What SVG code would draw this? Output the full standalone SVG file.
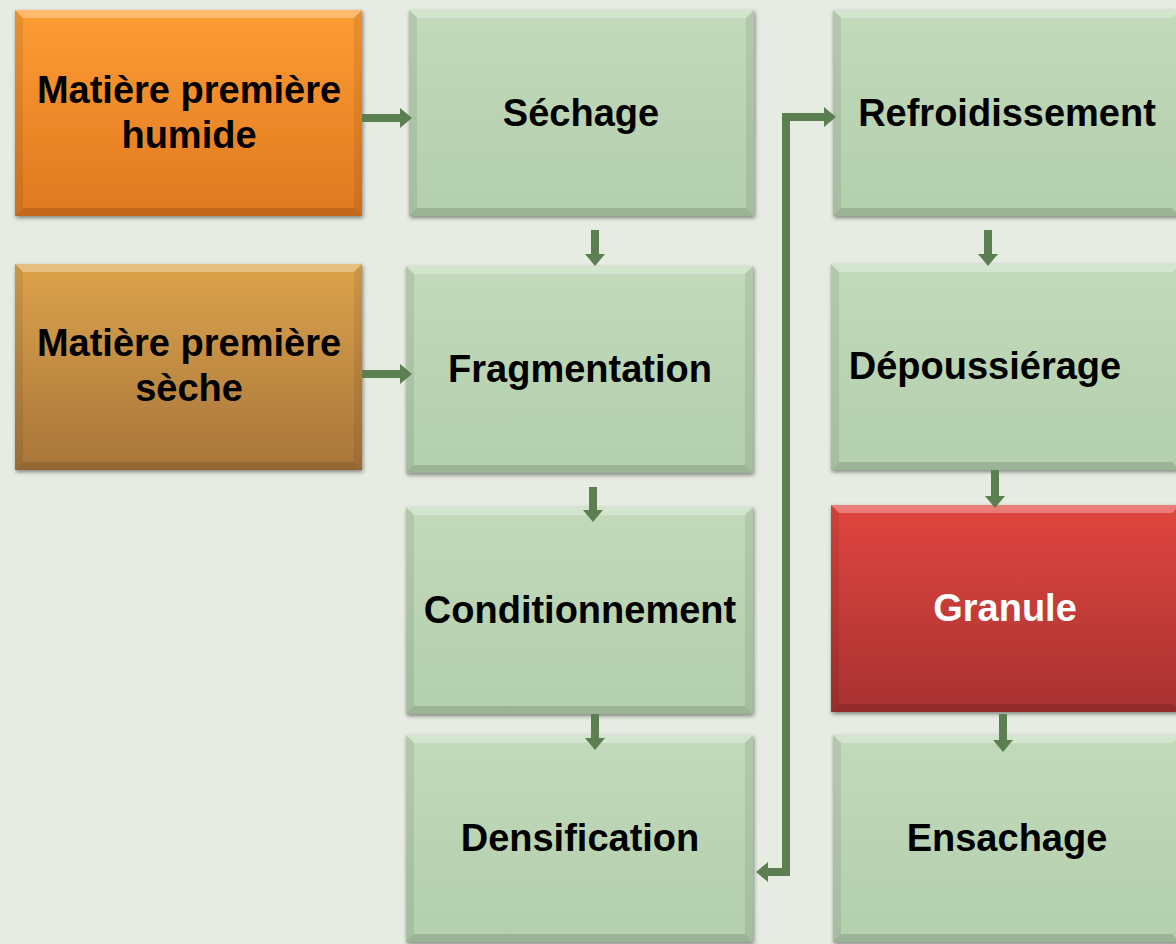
<svg xmlns="http://www.w3.org/2000/svg" width="1176" height="944" viewBox="0 0 1176 944">
<defs>
<style>
.lbl{font-family:"Liberation Sans",Arial,sans-serif;font-weight:bold;font-size:38px;fill:#000;text-anchor:middle}
.wht{fill:#fff}
.conn{fill:none;stroke:#5b7f50;stroke-width:8}
.hl{fill:#fff;opacity:0.3}
.sd{fill:#000;opacity:0.08}
.sb{fill:#000;opacity:0.13}
.box{filter:url(#sh)}
</style>
<linearGradient id="gGreen" x1="0" y1="0" x2="0" y2="1"><stop offset="0" stop-color="#c2dabb"/><stop offset="1" stop-color="#b3cfac"/></linearGradient>
<linearGradient id="gOrange" x1="0" y1="0" x2="0" y2="1"><stop offset="0" stop-color="#fe9d33"/><stop offset="1" stop-color="#df7820"/></linearGradient>
<linearGradient id="gBrown" x1="0" y1="0" x2="0" y2="1"><stop offset="0" stop-color="#dca34b"/><stop offset="1" stop-color="#a8753a"/></linearGradient>
<linearGradient id="gRed" x1="0" y1="0" x2="0" y2="1"><stop offset="0" stop-color="#e1463f"/><stop offset="1" stop-color="#a83131"/></linearGradient>
<filter id="sh" x="-5%" y="-5%" width="110%" height="112%"><feDropShadow dx="1" dy="2" stdDeviation="2" flood-color="#000" flood-opacity="0.45"/></filter>
<marker id="ah" viewBox="0 0 12 20" refX="0" refY="10" markerWidth="12" markerHeight="20" markerUnits="userSpaceOnUse" orient="auto-start-reverse"><path d="M0,0 L12,10 L0,20 z" fill="#5b7f50"/></marker>
</defs>
<rect width="1176" height="944" fill="#e7ece2"/>

<g id="n-humide">
<rect class="box" x="15" y="10" width="347" height="206" fill="url(#gOrange)"/>
<path class="hl" d="M15,10 H362 L354,18 H23 Z"/>
<path class="sd" d="M15,10 L23,18 V208 L15,216 Z M362,10 L354,18 V208 L362,216 Z"/>
<path class="sb" d="M15,216 L23,208 H354 L362,216 Z"/>
<text class="lbl" x="189" y="103">Matière première</text>
<text class="lbl" x="189" y="148">humide</text>
</g>

<g id="n-seche">
<rect class="box" x="15" y="264" width="347" height="206" fill="url(#gBrown)"/>
<path class="hl" d="M15,264 H362 L354,272 H23 Z"/>
<path class="sd" d="M15,264 L23,272 V462 L15,470 Z M362,264 L354,272 V462 L362,470 Z"/>
<path class="sb" d="M15,470 L23,462 H354 L362,470 Z"/>
<text class="lbl" x="189" y="356">Matière première</text>
<text class="lbl" x="189" y="401">sèche</text>
</g>

<g id="n-sechage">
<rect class="box" x="409" y="10" width="345" height="206" fill="url(#gGreen)"/>
<path class="hl" d="M409,10 H754 L746,18 H417 Z"/>
<path class="sd" d="M409,10 L417,18 V208 L409,216 Z M754,10 L746,18 V208 L754,216 Z"/>
<path class="sb" d="M409,216 L417,208 H746 L754,216 Z"/>
<text class="lbl" x="581" y="126">Séchage</text>
</g>

<g id="n-fragmentation">
<rect class="box" x="406" y="266" width="347" height="207" fill="url(#gGreen)"/>
<path class="hl" d="M406,266 H753 L745,274 H414 Z"/>
<path class="sd" d="M406,266 L414,274 V465 L406,473 Z M753,266 L745,274 V465 L753,473 Z"/>
<path class="sb" d="M406,473 L414,465 H745 L753,473 Z"/>
<text class="lbl" x="580" y="382">Fragmentation</text>
</g>

<g id="n-conditionnement">
<rect class="box" x="406" y="507" width="347" height="207" fill="url(#gGreen)"/>
<path class="hl" d="M406,507 H753 L745,515 H414 Z"/>
<path class="sd" d="M406,507 L414,515 V706 L406,714 Z M753,507 L745,515 V706 L753,714 Z"/>
<path class="sb" d="M406,714 L414,706 H745 L753,714 Z"/>
<text class="lbl" x="580" y="623">Conditionnement</text>
</g>

<g id="n-densification">
<rect class="box" x="406" y="735" width="347" height="207" fill="url(#gGreen)"/>
<path class="hl" d="M406,735 H753 L745,743 H414 Z"/>
<path class="sd" d="M406,735 L414,743 V934 L406,942 Z M753,735 L745,743 V934 L753,942 Z"/>
<path class="sb" d="M406,942 L414,934 H745 L753,942 Z"/>
<text class="lbl" x="580" y="851">Densification</text>
</g>

<g id="n-refroidissement">
<rect class="box" x="833" y="10" width="347" height="206" fill="url(#gGreen)"/>
<path class="hl" d="M833,10 H1180 L1172,18 H841 Z"/>
<path class="sd" d="M833,10 L841,18 V208 L833,216 Z"/>
<path class="sb" d="M833,216 L841,208 H1172 L1180,216 Z"/>
<text class="lbl" x="1007" y="126">Refroidissement</text>
</g>

<g id="n-depoussierage">
<rect class="box" x="831" y="264" width="349" height="206" fill="url(#gGreen)"/>
<path class="hl" d="M831,264 H1180 L1172,272 H839 Z"/>
<path class="sd" d="M831,264 L839,272 V462 L831,470 Z"/>
<path class="sb" d="M831,470 L839,462 H1172 L1180,470 Z"/>
<text class="lbl" x="985" y="379">Dépoussiérage</text>
</g>

<g id="n-granule">
<rect class="box" x="831" y="505" width="349" height="207" fill="url(#gRed)"/>
<path class="hl" d="M831,505 H1180 L1172,513 H839 Z"/>
<path class="sd" d="M831,505 L839,513 V704 L831,712 Z"/>
<path class="sb" d="M831,712 L839,704 H1172 L1180,712 Z"/>
<text class="lbl wht" x="1005" y="621">Granule</text>
</g>

<g id="n-ensachage">
<rect class="box" x="833" y="735" width="347" height="207" fill="url(#gGreen)"/>
<path class="hl" d="M833,735 H1180 L1172,743 H841 Z"/>
<path class="sd" d="M833,735 L841,743 V934 L833,942 Z"/>
<path class="sb" d="M833,942 L841,934 H1172 L1180,942 Z"/>
<text class="lbl" x="1007" y="851">Ensachage</text>
</g>

<g id="connectors">
<line class="conn" x1="362" y1="118" x2="400" y2="118" marker-end="url(#ah)"/>
<line class="conn" x1="362" y1="374" x2="400" y2="374" marker-end="url(#ah)"/>
<line class="conn" x1="595" y1="230" x2="595" y2="254" marker-end="url(#ah)"/>
<line class="conn" x1="593" y1="487" x2="593" y2="510" marker-end="url(#ah)"/>
<line class="conn" x1="595" y1="714" x2="595" y2="738" marker-end="url(#ah)"/>
<line class="conn" x1="988" y1="230" x2="988" y2="254" marker-end="url(#ah)"/>
<line class="conn" x1="995" y1="470" x2="995" y2="496" marker-end="url(#ah)"/>
<line class="conn" x1="1003" y1="714" x2="1003" y2="740" marker-end="url(#ah)"/>
<path class="conn" d="M768,872 L786,872 L786,117 L824,117" marker-start="url(#ah)" marker-end="url(#ah)"/>
</g>
</svg>
